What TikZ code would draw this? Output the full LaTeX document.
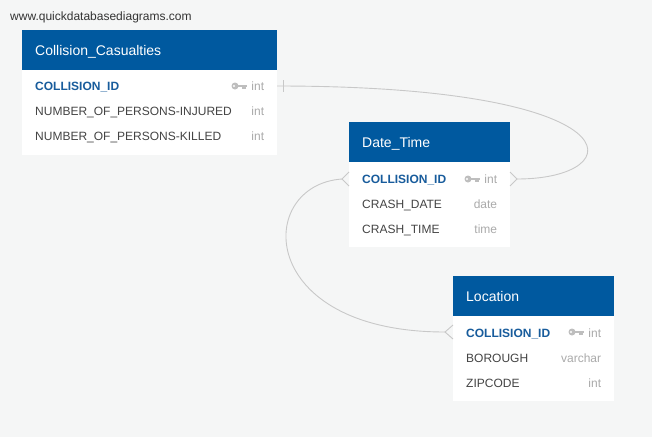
\documentclass[tikz,border=0pt]{standalone}
\usepackage{fontspec}
\setmainfont{Liberation Sans}
\usetikzlibrary{calc}
\definecolor{bg}{RGB}{245,246,246}
\definecolor{hdr}{RGB}{0,89,159}
\definecolor{keyblue}{RGB}{24,92,156}
\definecolor{rowtxt}{RGB}{68,68,68}
\definecolor{typetxt}{RGB}{170,170,170}
\definecolor{keyicon}{RGB}{190,190,190}
\definecolor{conn}{RGB}{200,200,200}
\definecolor{urltxt}{RGB}{51,51,51}
\tikzset{
  tblhead/.style={fill=hdr, draw=none, inner sep=0pt, outer sep=0pt, anchor=north west},
  tblbody/.style={fill=white, draw=none, inner sep=0pt, outer sep=0pt, anchor=north west},
  tbltitle/.style={anchor=base west, inner sep=0pt, text=white, font=\fontsize{14}{16}\selectfont},
  fieldtxt/.style={anchor=base west, inner sep=0pt, text=rowtxt, font=\fontsize{12}{14}\selectfont},
  pkfield/.style={anchor=base west, inner sep=0pt, text=keyblue, font=\fontsize{12}{14}\selectfont\bfseries},
  typetx/.style={anchor=base east, inner sep=0pt, text=typetxt, font=\fontsize{12}{14}\selectfont},
  relline/.style={draw=conn, line width=0.9pt},
}
% key icon: right end at (#1,#2) = (x, row centre y)
\newcommand{\drawkeyicon}[2]{%
  \fill[keyicon] (#1-11.5,#2) circle (3.5);
  \fill[keyicon] (#1-9,#2-1.3) rectangle (#1,#2+1.1);
  \fill[keyicon] (#1-5,#2+1.1) rectangle (#1-1,#2+2.8);
  \fill[white] (#1-12.5,#2) circle (1.1);
}
\begin{document}
\begin{tikzpicture}[x=1pt,y=-1pt]
\fill[bg] (0,0) rectangle (652,437);
\useasboundingbox (0,0) rectangle (652,437);

\node[anchor=base west, inner sep=0pt, text=urltxt, font=\fontsize{12}{14}\selectfont] (url) at (10,20.3) {www.quickdatabasediagrams.com};

% ---------- Collision_Casualties ----------
\node[tblbody, minimum width=255pt, minimum height=124.5pt] (ccbody) at (22,30) {};
\node[tblhead, minimum width=255pt, minimum height=40pt] (cchead) at (22,30) {};
\node[tbltitle] (cctitle) at (35,55.8) {Collision\_Casualties};
\node[pkfield] (cc1) at (35,90.7) {COLLISION\_ID};
\node[typetx] (cc1t) at (264.3,90.7) {int};
\drawkeyicon{246.5}{86}
\node[fieldtxt] (cc2) at (35,115.7) {NUMBER\_OF\_PERSONS-INJURED};
\node[typetx] (cc2t) at (264.3,115.7) {int};
\node[fieldtxt] (cc3) at (35,140.7) {NUMBER\_OF\_PERSONS-KILLED};
\node[typetx] (cc3t) at (264.3,140.7) {int};

% ---------- Date_Time ----------
\node[tblbody, minimum width=161pt, minimum height=125pt] (dtbody) at (349,122) {};
\node[tblhead, minimum width=161pt, minimum height=40pt] (dthead) at (349,122) {};
\node[tbltitle] (dttitle) at (362,147.5) {Date\_Time};
\node[pkfield] (dt1) at (362,183.3) {COLLISION\_ID};
\node[typetx] (dt1t) at (497.3,183.3) {int};
\drawkeyicon{479.5}{179}
\node[fieldtxt] (dt2) at (362,208.3) {CRASH\_DATE};
\node[typetx] (dt2t) at (497.3,208.3) {date};
\node[fieldtxt] (dt3) at (362,233.3) {CRASH\_TIME};
\node[typetx] (dt3t) at (497.3,233.3) {time};

% ---------- Location ----------
\node[tblbody, minimum width=161pt, minimum height=124.5pt] (lobody) at (453,276) {};
\node[tblhead, minimum width=161pt, minimum height=40pt] (lohead) at (453,276) {};
\node[tbltitle] (lotitle) at (466,301.5) {Location};
\node[pkfield] (lo1) at (466,337) {COLLISION\_ID};
\node[typetx] (lo1t) at (601.3,337) {int};
\drawkeyicon{583.5}{332}
\node[fieldtxt] (lo2) at (466,362) {BOROUGH};
\node[typetx] (lo2t) at (601.3,362) {varchar};
\node[fieldtxt] (lo3) at (466,387) {ZIPCODE};
\node[typetx] (lo3t) at (601.3,387) {int};

% ---------- ports ----------
\coordinate (ccport) at (ccbody.east |- 0,86);
\coordinate (dtportR) at (dtbody.east |- 0,179);
\coordinate (dtportL) at (dtbody.west |- 0,179);
\coordinate (loportL) at (lobody.west |- 0,332);

% ---------- relation 1: Collision_Casualties -> Date_Time (right side) ----------
\draw[relline] (ccport) .. controls ($(ccport)+(363,0)$) and ($(dtportR)+(123,0)$) .. ($(dtportR)+(7,0)$);
\draw[relline] ($(ccport)+(6.5,-6)$) -- ($(ccport)+(6.5,6)$);
\draw[relline] ($(dtportR)+(0,-7)$) -- ($(dtportR)+(7,0)$) -- ($(dtportR)+(0,7)$);

% ---------- relation 2: Date_Time (left) -> Location (left) ----------
\draw[relline] ($(dtportL)+(-7,0)$) .. controls (255,185) and (255,332) .. ($(loportL)+(-8,0)$);
\draw[relline] ($(dtportL)+(0,-7)$) -- ($(dtportL)+(-7,0)$) -- ($(dtportL)+(0,7)$);
\draw[relline] ($(loportL)+(0,-7)$) -- ($(loportL)+(-8,0)$) -- ($(loportL)+(0,7)$);
\end{tikzpicture}
\end{document}
